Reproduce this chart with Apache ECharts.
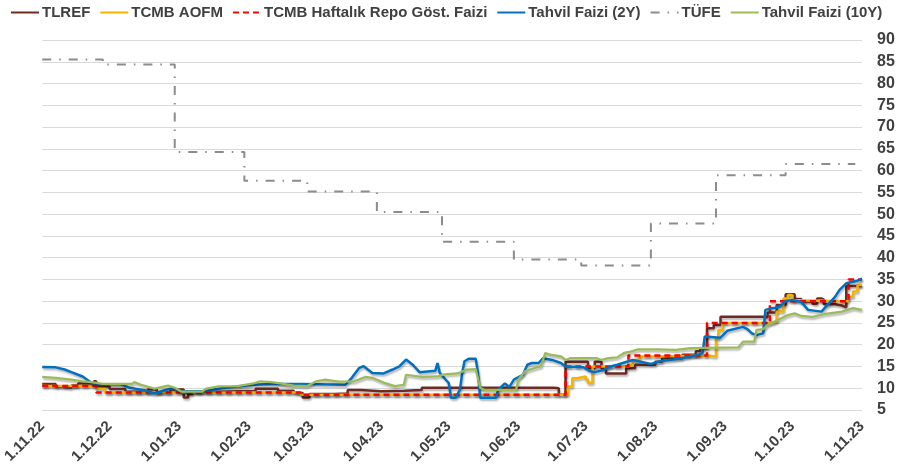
<!DOCTYPE html>
<html>
<head>
<meta charset="utf-8">
<script src="https://cdn.jsdelivr.net/npm/echarts@6/dist/echarts.min.js"></script>
<style>
  html, body { margin: 0; padding: 0; background: #fff; }
  #main { width: 902px; height: 471px; }
</style>
</head>
<body>
<div id="main"></div>
<script>
// seri isimleri (lejant sırası)
var seriesNames = ['TLREF', 'TCMB AOFM', 'TCMB Haftalık Repo Göst. Faizi', 'Tahvil Faizi (2Y)', 'TÜFE', 'Tahvil Faizi (10Y)'];

// TLREF (basamaklı)
var tlref = [
  ['2022-11-01', 11.0], ['2022-11-04', 11.0], ['2022-11-07', 10.4], ['2022-11-10', 10.1], ['2022-11-14', 10.6],
  ['2022-11-17', 11.1], ['2022-11-22', 11.1], ['2022-11-24', 11.6], ['2022-11-25', 10.4], ['2022-12-01', 9.8],
  ['2022-12-08', 9.2], ['2022-12-18', 9.7], ['2022-12-22', 9.0], ['2022-12-28', 9.7], ['2023-01-03', 7.9],
  ['2023-01-05', 8.7], ['2023-01-07', 9.2], ['2023-01-20', 9.4], ['2023-02-04', 9.9], ['2023-02-14', 9.4],
  ['2023-02-21', 8.9], ['2023-02-25', 7.9], ['2023-02-28', 8.7], ['2023-03-11', 8.8], ['2023-03-17', 9.6],
  ['2023-03-23', 9.3], ['2023-04-01', 9.4], ['2023-04-11', 9.6], ['2023-04-19', 10.1], ['2023-06-17', 10.0],
  ['2023-06-19', 8.5], ['2023-06-22', 16.1], ['2023-07-01', 16.1], ['2023-07-02', 14.6], ['2023-07-05', 16.1],
  ['2023-07-08', 14.6], ['2023-07-10', 13.4], ['2023-07-17', 13.4], ['2023-07-19', 14.6], ['2023-07-23', 15.4],
  ['2023-08-01', 16.1], ['2023-08-04', 16.9], ['2023-08-13', 17.7], ['2023-08-19', 18.5], ['2023-08-21', 19.2],
  ['2023-08-24', 23.8], ['2023-08-27', 24.5], ['2023-08-30', 26.4], ['2023-09-18', 26.3], ['2023-09-20', 27.4],
  ['2023-09-24', 29.1], ['2023-09-28', 31.6], ['2023-10-02', 30.5], ['2023-10-05', 29.9], ['2023-10-10', 29.4],
  ['2023-10-12', 30.6], ['2023-10-14', 30.4], ['2023-10-15', 29.3], ['2023-10-20', 29.0], ['2023-10-23', 28.6],
  ['2023-10-25', 33.5], ['2023-11-01', 33.5]
];

// TCMB AOFM (basamaklı)
var aofm = [
  ['2022-11-01', 10.5], ['2022-11-25', 9.9], ['2022-11-29', 9.0], ['2023-02-24', 8.5], ['2023-06-23', 10.4],
  ['2023-06-25', 12.3], ['2023-06-27', 12.7], ['2023-07-01', 12.0], ['2023-07-02', 11.2], ['2023-07-04', 15.0],
  ['2023-07-20', 15.4], ['2023-07-22', 16.5], ['2023-07-25', 17.3], ['2023-07-31', 17.5], ['2023-08-24', 17.3],
  ['2023-08-28', 21.5], ['2023-08-29', 23.4], ['2023-08-31', 25.0], ['2023-09-21', 25.3], ['2023-09-24', 27.6],
  ['2023-09-27', 30.6], ['2023-09-29', 31.4], ['2023-10-01', 30.2], ['2023-10-03', 30.0], ['2023-10-26', 31.0],
  ['2023-10-28', 32.2], ['2023-10-30', 33.7], ['2023-11-01', 33.7]
];

// TCMB haftalık repo (politika faizi)
var repo = [
  ['2022-11-01', 10.5], ['2022-11-25', 9.0], ['2023-02-24', 8.5], ['2023-06-22', 15.0], ['2023-07-20', 17.5],
  ['2023-08-24', 25.0], ['2023-09-21', 30.0], ['2023-10-26', 35.0], ['2023-11-01', 35.0]
];

// 2 yıllık tahvil
var bond2y = [
  ['2022-11-01', 14.9], ['2022-11-07', 14.8], ['2022-11-11', 14.3], ['2022-11-14', 13.7], ['2022-11-19', 12.7],
  ['2022-11-23', 11.2], ['2022-11-26', 11.0], ['2022-12-06', 10.9], ['2022-12-10', 10.1], ['2022-12-17', 9.5],
  ['2022-12-21', 8.8], ['2022-12-26', 9.6], ['2022-12-29', 10.0], ['2023-01-02', 9.3], ['2023-01-12', 9.3],
  ['2023-01-20', 10.0], ['2023-02-03', 10.8], ['2023-02-12', 11.0], ['2023-02-25', 11.0], ['2023-03-16', 10.8],
  ['2023-03-19', 12.5], ['2023-03-22', 14.6], ['2023-03-24', 15.1], ['2023-03-28', 13.5], ['2023-04-02', 13.4],
  ['2023-04-06', 14.3], ['2023-04-09', 15.0], ['2023-04-12', 16.6], ['2023-04-15', 15.4], ['2023-04-18', 13.7],
  ['2023-04-25', 14.0], ['2023-04-26', 15.8], ['2023-04-27', 13.5], ['2023-05-01', 11.2], ['2023-05-02', 7.8],
  ['2023-05-04', 7.8], ['2023-05-06', 9.7], ['2023-05-07', 13.6], ['2023-05-08', 16.2], ['2023-05-10', 16.8],
  ['2023-05-13', 16.8], ['2023-05-14', 13.6], ['2023-05-15', 7.8], ['2023-05-22', 7.8], ['2023-05-23', 9.6],
  ['2023-05-26', 11.1], ['2023-05-28', 10.3], ['2023-05-30', 12.0], ['2023-06-03', 13.1], ['2023-06-05', 15.4],
  ['2023-06-07', 15.8], ['2023-06-10', 15.8], ['2023-06-12', 16.9], ['2023-06-16', 16.5], ['2023-06-20', 15.8],
  ['2023-06-22', 15.0], ['2023-06-30', 14.8], ['2023-07-03', 13.9], ['2023-07-05', 13.7], ['2023-07-09', 14.2],
  ['2023-07-12', 15.0], ['2023-07-15', 15.4], ['2023-07-20', 16.2], ['2023-07-22', 16.5], ['2023-07-30', 15.6],
  ['2023-08-03', 16.2], ['2023-08-09', 16.6], ['2023-08-15', 17.1], ['2023-08-20', 17.7], ['2023-08-22', 18.1],
  ['2023-08-23', 21.9], ['2023-08-30', 21.6], ['2023-09-02', 23.2], ['2023-09-09', 24.1], ['2023-09-11', 23.6],
  ['2023-09-13', 22.6], ['2023-09-15', 22.2], ['2023-09-18', 22.6], ['2023-09-19', 28.0], ['2023-09-22', 28.4],
  ['2023-09-25', 28.6], ['2023-09-28', 30.0], ['2023-10-01', 30.3], ['2023-10-05', 29.8], ['2023-10-08', 28.0],
  ['2023-10-14', 27.6], ['2023-10-16', 28.8], ['2023-10-20', 31.0], ['2023-10-22', 32.6], ['2023-10-25', 34.1],
  ['2023-10-30', 34.7], ['2023-11-01', 35.2]
];

// TÜFE yıllık (aylık basamak)
var tufe = [
  ['2022-11-01', 85.51], ['2022-11-28', 84.39], ['2022-12-30', 64.27], ['2023-01-30', 57.68], ['2023-02-27', 55.18],
  ['2023-03-30', 50.51], ['2023-04-28', 43.68], ['2023-05-30', 39.59], ['2023-06-29', 38.21], ['2023-07-30', 47.83],
  ['2023-08-28', 58.94], ['2023-09-28', 61.53], ['2023-10-29', 61.53]
];

// 10 yıllık tahvil
var bond10y = [
  ['2022-11-01', 12.6], ['2022-11-07', 12.4], ['2022-11-14', 12.0], ['2022-11-19', 11.6], ['2022-11-23', 11.4],
  ['2022-11-28', 11.0], ['2022-12-11', 11.0], ['2022-12-12', 11.4], ['2022-12-15', 10.8], ['2022-12-21', 9.9],
  ['2022-12-27', 10.6], ['2022-12-30', 10.1], ['2023-01-02', 9.2], ['2023-01-11', 9.2], ['2023-01-13', 9.9],
  ['2023-01-18', 10.4], ['2023-01-27', 10.5], ['2023-02-03', 11.1], ['2023-02-06', 11.6], ['2023-02-11', 11.4],
  ['2023-02-15', 11.1], ['2023-02-21', 10.6], ['2023-02-27', 10.5], ['2023-03-03', 11.6], ['2023-03-07', 12.0],
  ['2023-03-13', 11.5], ['2023-03-20', 11.6], ['2023-03-25', 12.6], ['2023-03-28', 12.4], ['2023-04-02', 11.3],
  ['2023-04-07', 10.5], ['2023-04-11', 10.8], ['2023-04-12', 13.1], ['2023-04-19', 12.6], ['2023-04-26', 12.7],
  ['2023-04-29', 13.2], ['2023-05-05', 13.4], ['2023-05-09', 14.3], ['2023-05-13', 14.4], ['2023-05-15', 10.1],
  ['2023-05-17', 9.6], ['2023-05-31', 9.6], ['2023-06-01', 12.0], ['2023-06-04', 13.9], ['2023-06-09', 14.8],
  ['2023-06-11', 15.0], ['2023-06-13', 18.1], ['2023-06-15', 17.7], ['2023-06-20', 17.3], ['2023-06-22', 16.5],
  ['2023-06-24', 16.9], ['2023-07-06', 16.9], ['2023-07-08', 16.5], ['2023-07-11', 16.9], ['2023-07-15', 17.1],
  ['2023-07-18', 18.1], ['2023-07-21', 18.4], ['2023-07-24', 18.9], ['2023-08-02', 18.9], ['2023-08-10', 18.8],
  ['2023-08-17', 19.2], ['2023-09-07', 19.4], ['2023-09-09', 20.7], ['2023-09-14', 20.7], ['2023-09-15', 23.4],
  ['2023-09-18', 23.6], ['2023-09-20', 24.5], ['2023-09-23', 25.3], ['2023-09-29', 26.8], ['2023-10-02', 27.2],
  ['2023-10-05', 26.6], ['2023-10-10', 26.4], ['2023-10-15', 27.0], ['2023-10-23', 27.6], ['2023-10-28', 28.4],
  ['2023-11-01', 28.0]
];

var chart = echarts.init(document.getElementById('main'));

var fontFam = '"Liberation Sans", Arial, sans-serif';
var shadow = { shadowColor: 'rgba(0,0,0,0.3)', shadowBlur: 2, shadowOffsetX: 1, shadowOffsetY: 2 };

function mkLine(name, data, color, width, extra) {
  var s = {
    name: name,
    type: 'line',
    data: data,
    symbol: 'none',
    showSymbol: false,
    animation: false,
    lineStyle: Object.assign({ color: color, width: width }, shadow),
    itemStyle: { color: color }
  };
  return Object.assign(s, extra || {});
}

var option = {
  backgroundColor: '#fff',
  textStyle: { fontFamily: fontFam },
  legend: {
    top: 5,
    left: 10,
    padding: 0,
    itemWidth: 28,
    itemHeight: 14,
    itemGap: 9,
    itemStyle: { opacity: 0 },
    lineStyle: { shadowBlur: 0, shadowOffsetX: 0, shadowOffsetY: 0, shadowColor: 'transparent' },
    textStyle: { fontSize: 15, fontWeight: 'bold', color: '#404040', fontFamily: fontFam, padding: [0, 0, 0, -2] },
    data: seriesNames
  },
  grid: { left: 36, right: 40, top: 40, bottom: 61 },
  xAxis: {
    type: 'time',
    min: '2022-11-01',
    max: '2023-11-01',
    splitNumber: 12,
    axisLine: { show: false },
    axisTick: { show: false },
    splitLine: { show: false },
    axisLabel: {
      rotate: 45,
      margin: 14,
      fontSize: 15,
      fontWeight: 'bold',
      color: '#404040',
      fontFamily: fontFam,
      showMinLabel: true,
      showMaxLabel: true,
      hideOverlap: false,
      formatter: '{d}.{MM}.{yy}'
    }
  },
  yAxis: {
    type: 'value',
    position: 'right',
    min: 5,
    max: 90,
    interval: 5,
    axisLine: { show: false },
    axisTick: { show: false },
    splitLine: { lineStyle: { color: '#d9d9d9', width: 1 } },
    axisLabel: { margin: 15, fontSize: 16, fontWeight: 'bold', color: '#404040', fontFamily: fontFam }
  },
  series: [
    mkLine(seriesNames[0], tlref, '#6d2b24', 2.5, { step: 'end' }),
    mkLine(seriesNames[1], aofm, '#f5b400', 2.5, { step: 'end' }),
    mkLine(seriesNames[2], repo, '#ff0000', 2.5, { step: 'end', lineStyle: Object.assign({ color: '#ff0000', width: 2.5, type: [6, 4] }, shadow) }),
    mkLine(seriesNames[3], bond2y, '#0070c0', 2.5),
    mkLine(seriesNames[4], tufe, '#8c8c8c', 2, { step: 'end', lineStyle: { color: '#8c8c8c', width: 2, type: [9, 8, 1.5, 8] } }),
    mkLine(seriesNames[5], bond10y, '#9bbb59', 2.25)
  ]
};

chart.setOption(option);
</script>
</body>
</html>
